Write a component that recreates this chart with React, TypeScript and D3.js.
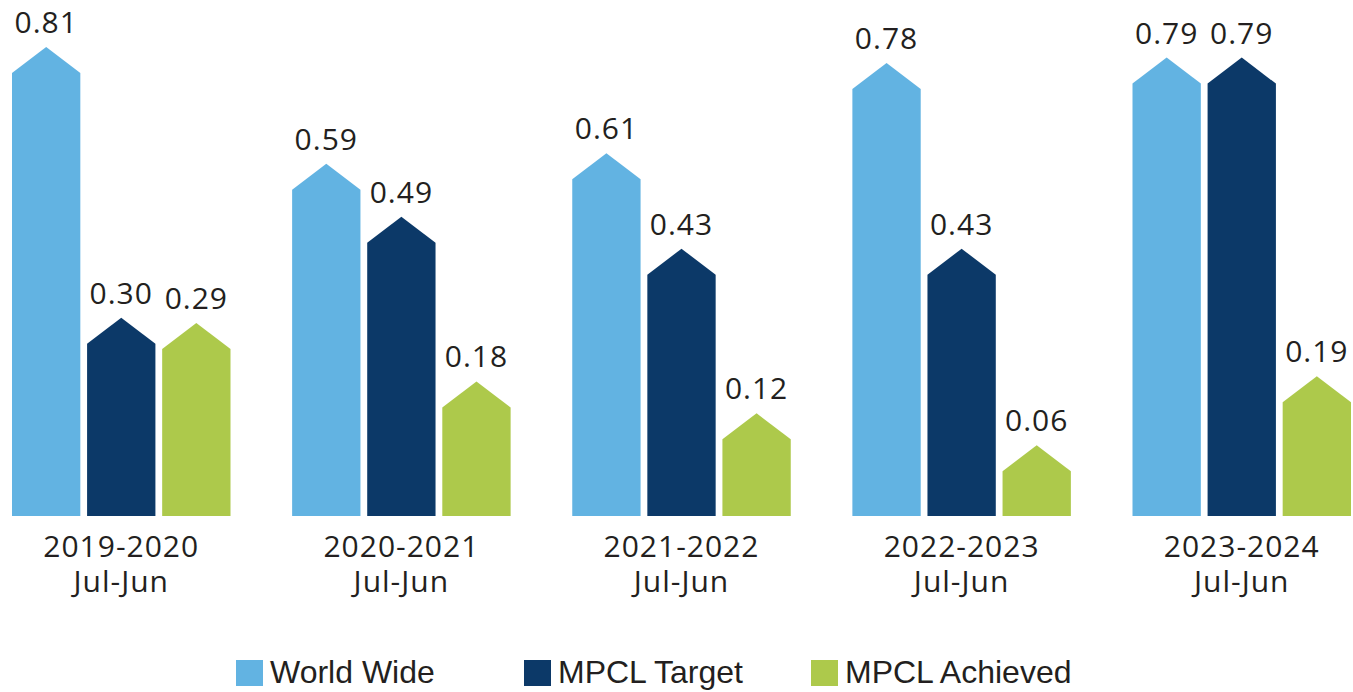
import React, { useEffect, useRef } from 'react';
import * as d3 from 'd3';

// chart data
const periods = ['2019-2020', '2020-2021', '2021-2022', '2022-2023', '2023-2024'];
const periodSub = ['Jul-Jun', 'Jul-Jun', 'Jul-Jun', 'Jul-Jun', 'Jul-Jun'];
const seriesNames = ['World Wide', 'MPCL Target', 'MPCL Achieved'];
const worldWide = [0.81, 0.59, 0.61, 0.78, 0.79];
const mpclTarget = [0.30, 0.49, 0.43, 0.43, 0.79];
const mpclAchieved = [0.29, 0.18, 0.12, 0.06, 0.19];
const colors = ['#62B3E2', '#0C3968', '#ADC94B'];

const App = () => {
  const svgRef = useRef<SVGSVGElement>(null);

  useEffect(() => {
    const width = 1353;
    const height = 692;
    const baseY = 516;
    const roof = 26;

    const svg = d3.select(svgRef.current)
      .attr('width', width)
      .attr('height', height);
    svg.selectAll('*').remove();

    const values = [worldWide, mpclTarget, mpclAchieved];
    const data = periods.map((p, i) => ({
      period: p,
      sub: periodSub[i],
      vals: seriesNames.map((s, j) => ({ series: s, value: values[j][i] })),
    }));

    // scales
    const x0 = d3.scaleBand()
      .domain(periods)
      .range([12, 1351])
      .paddingInner(0.22);

    const x1 = d3.scaleBand()
      .domain(seriesNames)
      .range([0, x0.bandwidth()])
      .paddingInner(0.09);

    const y = d3.scaleLinear()
      .domain([-0.0245, 0.81])
      .range([baseY, 73]);

    const color = d3.scaleOrdinal<string>().domain(seriesNames).range(colors);

    const groups = svg.append('g')
      .selectAll('g')
      .data(data)
      .join('g')
      .attr('transform', d => `translate(${x0(d.period)},0)`);

    // house shaped bars
    const bw = x1.bandwidth();
    groups.selectAll('path')
      .data(d => d.vals)
      .join('path')
      .attr('fill', d => color(d.series))
      .attr('d', d => {
        const xl = x1(d.series)!;
        const ye = y(d.value);
        const path = d3.path();
        path.moveTo(xl, baseY);
        path.lineTo(xl, ye);
        path.lineTo(xl + bw / 2, ye - roof);
        path.lineTo(xl + bw, ye);
        path.lineTo(xl + bw, baseY);
        path.closePath();
        return path.toString();
      });

    // value labels
    groups.selectAll('text.val')
      .data(d => d.vals)
      .join('text')
      .attr('class', 'val')
      .attr('x', d => x1(d.series)! + bw / 2)
      .attr('y', d => y(d.value) - roof - 14)
      .attr('text-anchor', 'middle')
      .style('font-family', '"Open Sans", "Noto Sans", sans-serif')
      .style('font-size', '30px')
      .style('letter-spacing', '1px')
      .style('fill', '#231F20')
      .text(d => d.value.toFixed(2));

    // category labels
    const cat = groups.append('text')
      .attr('text-anchor', 'middle')
      .style('font-family', '"Open Sans", "Noto Sans", sans-serif')
      .style('font-size', '30px')
      .style('letter-spacing', '1px')
      .style('fill', '#231F20');
    cat.append('tspan')
      .attr('x', x0.bandwidth() / 2)
      .attr('y', 557)
      .text(d => d.period);
    cat.append('tspan')
      .attr('x', x0.bandwidth() / 2)
      .attr('y', 592)
      .text(d => d.sub);

    // legend
    const legendX = [236, 524, 811];
    const legend = svg.append('g')
      .selectAll('g')
      .data(seriesNames)
      .join('g')
      .attr('transform', (d, i) => `translate(${legendX[i]},660)`);

    legend.append('rect')
      .attr('width', 27)
      .attr('height', 26)
      .attr('fill', d => color(d));

    legend.append('text')
      .attr('x', 34)
      .attr('y', 23)
      .style('font-family', '"Liberation Sans", Arial, sans-serif')
      .style('font-size', '32px')
      .style('fill', '#231F20')
      .text(d => d);
  }, []);

  return (
    <svg ref={svgRef} style={{ position: 'absolute', left: 0, top: 0, background: '#fff' }}></svg>
  );
};

export default App;
